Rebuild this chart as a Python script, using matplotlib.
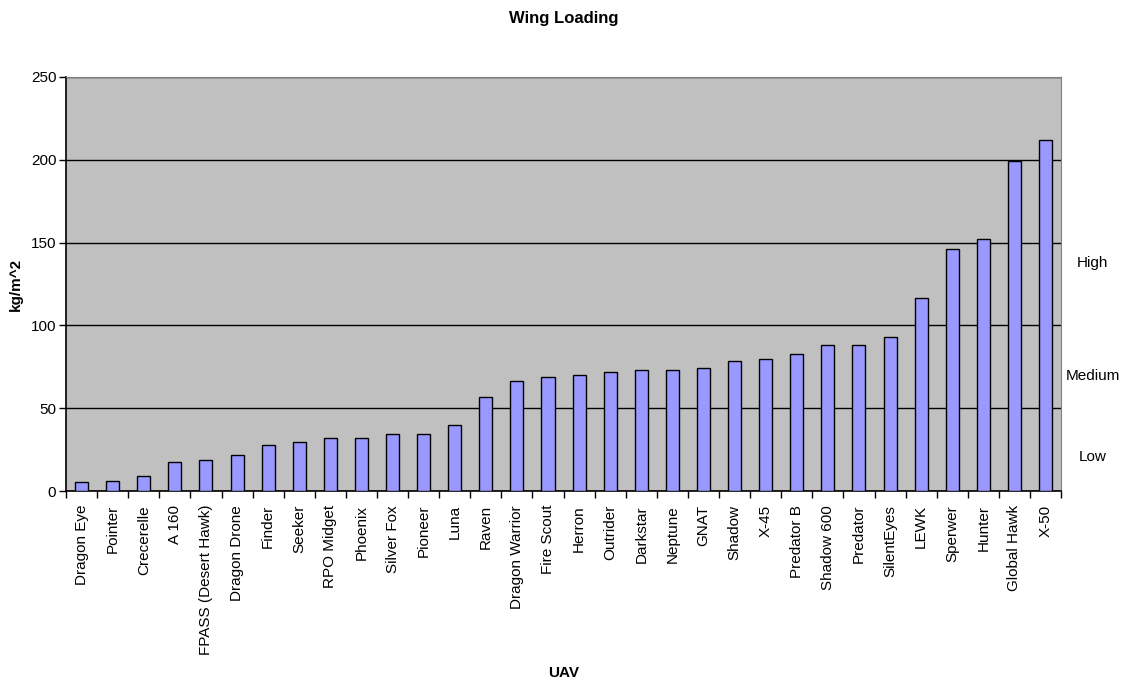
"""
Wing loading bar chart for a set of UAVs (Excel-style look).
"""
import matplotlib
matplotlib.use("Agg")
import numpy as np
import matplotlib.pyplot as plt
from matplotlib.ticker import FixedLocator

plt.rcParams["font.family"] = ["Liberation Sans", "DejaVu Sans"]

uavs = ["Dragon Eye", "Pointer", "Crecerelle", "A 160", "FPASS (Desert Hawk)",
        "Dragon Drone", "Finder", "Seeker", "RPO Midget", "Phoenix", "Silver Fox",
        "Pioneer", "Luna", "Raven", "Dragon Warrior", "Fire Scout", "Herron",
        "Outrider", "Darkstar", "Neptune", "GNAT", "Shadow", "X-45", "Predator B",
        "Shadow 600", "Predator", "SilentEyes", "LEWK", "Sperwer", "Hunter",
        "Global Hawk", "X-50"]
wing_loading = [5.5, 6, 9, 17.5, 19, 22, 28, 29.5, 32, 32, 34.5, 34.5, 40, 57,
                66.5, 69, 70, 72, 73, 73, 74, 78.5, 80, 83, 88, 88, 93, 116.5,
                146, 152, 199, 212]
bands = ["High", "Medium", "Low"]
band_pos = [137.7, 69.4, 20.5]

fig = plt.figure(figsize=(11.27, 6.83), dpi=100)
ax = fig.add_axes([0.0586, 0.2811, 0.8829, 0.6062])
ax.set_facecolor("#C0C0C0")

x = np.arange(len(uavs))
ax.bar(x, wing_loading, width=0.42, color="#9999FF", edgecolor="black",
       linewidth=1.0, zorder=3)

ax.set_xlim(-0.5, len(uavs) - 0.5)
ax.set_ylim(0, 250)
ax.set_yticks([0, 50, 100, 150, 200, 250])
ax.yaxis.grid(True, color="black", linewidth=1.0, zorder=1)
ax.set_axisbelow(True)

# category ticks sit between bars, labels at bar centres
ax.set_xticks(x)
ax.set_xticklabels(uavs, rotation=90, fontsize=11)
ax.xaxis.set_minor_locator(FixedLocator(np.arange(-0.5, len(uavs), 1.0)))
ax.tick_params(axis="x", which="major", length=0, pad=10)
ax.tick_params(axis="x", which="minor", length=5, width=1, direction="out")
ax.tick_params(axis="y", length=5, width=1, labelsize=11, pad=2)

for side in ["top", "right"]:
    ax.spines[side].set_color("#808080")
for side in ["left", "bottom"]:
    ax.spines[side].set_color("black")
    ax.spines[side].set_linewidth(1.2)

for name, y in zip(bands, band_pos):
    ax.text(1.032, y, name, transform=ax.get_yaxis_transform(), ha="center",
            va="center", fontsize=11)

fig.text(0.5, 1 - 19 / 683, "Wing Loading", ha="center", va="center",
         fontsize=12, fontweight="bold")
ax.set_ylabel("kg/m^2", fontsize=11, fontweight="bold", labelpad=6)
fig.text(0.5, 1 - 673 / 683, "UAV", ha="center", va="center", fontsize=11,
         fontweight="bold")

fig.savefig("out.png", dpi=100)
